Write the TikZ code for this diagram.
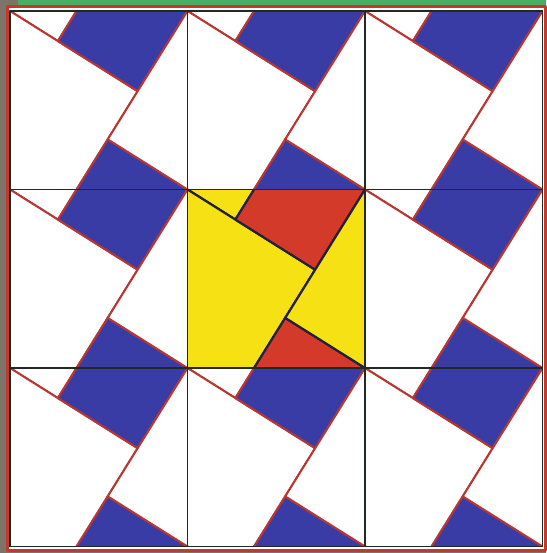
\documentclass[tikz,border=0pt]{standalone}
\usepackage{tikz}
\definecolor{tileblue}{RGB}{58,60,165}
\definecolor{tileline}{RGB}{185,55,50}
\definecolor{coreyellow}{RGB}{246,226,20}
\definecolor{corered}{RGB}{212,58,42}
\definecolor{coreline}{RGB}{35,32,60}
\definecolor{gridcol}{RGB}{30,42,34}
\definecolor{framered}{RGB}{196,56,46}
\definecolor{scangreen}{RGB}{70,175,100}
\definecolor{scangray}{RGB}{125,115,105}

\begin{document}
\begin{tikzpicture}[line cap=round, line join=round, x=1pt, y=-1pt,
    bigsq/.style={fill=white, draw=tileline, line width=2pt},
    smallsq/.style={fill=tileblue, draw=tileline, line width=2pt},
    corebig/.style={fill=coreyellow, draw=coreline, line width=2.2pt},
    coresmall/.style={fill=corered, draw=coreline, line width=2.2pt},
    gridline/.style={draw=gridcol, line width=1.4pt},
    cellunits/.style={shift={(10,11)}, x={(177.5pt,0pt)}, y={(0pt,-178.5pt)}}]
  \useasboundingbox (0,0) rectangle (546,553);
  % ===== scanned page edge round the plate =====
  \fill[scangray] (0,0) rectangle (546,553);
  \fill[scangreen] (18,0) rectangle (546,6);
  \fill[white] (7,7) rectangle (545,550);
  % ===== tiling: big squares (side 8) and small squares (side 5), cell = hypotenuse =====
  \begin{scope}[cellunits]
    \clip (0,0) rectangle (3,3);
    \foreach \i in {-1,...,3}
      \foreach \j in {-1,...,3} {
        \draw[bigsq] (\i,\j) -- ++(0.7191,0.4494) -- ++(-0.4494,0.7191)
          -- ++(-0.7191,-0.4494) -- cycle;
        \draw[smallsq] (\i+0.5506,\j-0.2809) -- ++(0.4494,0.2809)
          -- ++(-0.2809,0.4494) -- ++(-0.4494,-0.2809) -- cycle;
      }
  \end{scope}
  % ===== centre cell: same pieces in yellow and red =====
  \begin{scope}[cellunits]
    \clip (1,1) rectangle (2,2);
    \foreach \i in {0,...,2}
      \foreach \j in {0,...,2} {
        \draw[corebig] (\i,\j) -- ++(0.7191,0.4494) -- ++(-0.4494,0.7191)
          -- ++(-0.7191,-0.4494) -- cycle;
        \draw[coresmall] (\i+0.5506,\j-0.2809) -- ++(0.4494,0.2809)
          -- ++(-0.2809,0.4494) -- ++(-0.4494,-0.2809) -- cycle;
      }
  \end{scope}
  % ===== 3x3 grid of cells =====
  \begin{scope}[cellunits]
    \foreach \k in {0,...,3} {
      \draw[gridline] (\k,0) -- (\k,3);
      \draw[gridline] (0,\k) -- (3,\k);
    }
  \end{scope}
  % ===== red frame =====
  \draw[framered, line width=3pt] (7,7) rectangle (545,550);
\end{tikzpicture}
\end{document}
